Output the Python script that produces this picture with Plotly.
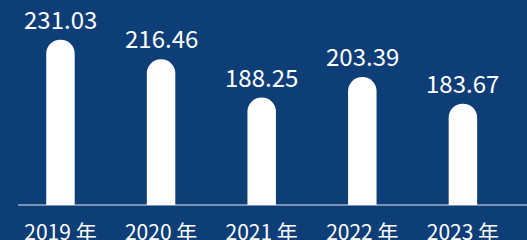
import plotly.graph_objects as go

categories = ["2019 年", "2020 年", "2021 年", "2022 年", "2023 年"]
values = [231.03, 216.46, 188.25, 203.39, 183.67]
value_labels = ["231.03", "216.46", "188.25", "203.39", "183.67"]

FONT = "Noto Sans CJK SC, Noto Sans, sans-serif"
BG = "#0e3e77"

fig = go.Figure()
fig.add_trace(go.Bar(
    x=categories, y=values,
    width=0.283,
    marker=dict(color="white", cornerradius="50%", line=dict(width=0)),
    hoverinfo="skip",
))

for c, v, t in zip(categories, values, value_labels):
    fig.add_annotation(x=c, y=v, text=t, showarrow=False, yanchor="bottom",
                       yshift=2, font=dict(family=FONT, size=24, color="white"))

fig.add_shape(type="line", xref="paper", yref="y domain",
              x0=18/527, x1=1, y0=0, y1=0,
              line=dict(color="rgba(255,255,255,0.9)", width=1.2))

fig.update_layout(
    width=527, height=240,
    margin=dict(l=0, r=0, t=0, b=0),
    paper_bgcolor=BG, plot_bgcolor=BG,
    showlegend=False,
    xaxis=dict(range=[-0.601, 4.637], showgrid=False, zeroline=False, showline=False,
               ticks="", tickfont=dict(family=FONT, size=21, color="white"),
               automargin=False, ticklabelstandoff=13),
    yaxis=dict(range=[108.9, 260.3], domain=[35/240, 1], visible=False),
)

fig.write_html("out.html", config={"displayModeBar": False},
               post_script="document.body.style.margin='0';document.body.style.overflow='hidden';document.body.style.background='" + BG + "';")
